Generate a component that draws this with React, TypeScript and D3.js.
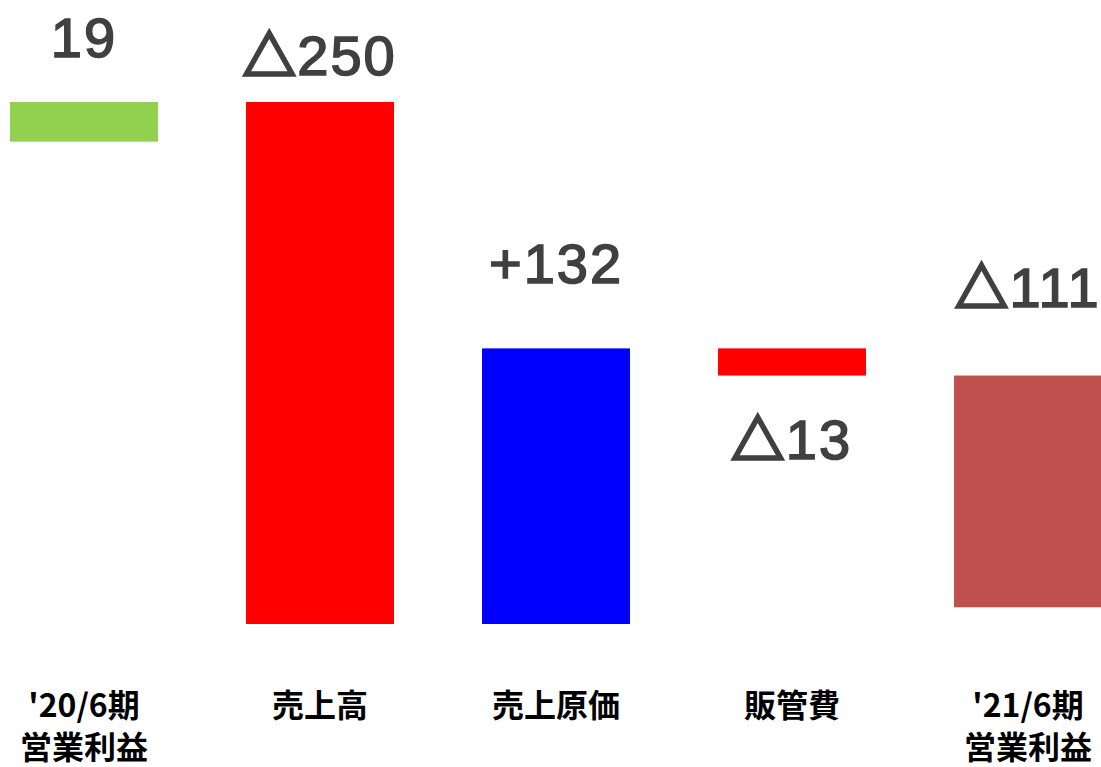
import React from "react";
import * as d3 from "d3";

const categories = ["'20/6期\n営業利益", "売上高", "売上原価", "販管費", "'21/6期\n営業利益"];
const changes = [19, -250, 132, -13, -111];
const valueLabels = ["19", "△250", "+132", "△13", "△111"];
const barColors = ["#92D050", "#FF0000", "#0000FF", "#FF0000", "#C0504D"];
// vertical label offsets (px) from the bar's top (negative) or bottom (positive)
const labelDy = [-45, -27, -65, 83, -69];

const W = 1101;
const H = 767;

export default function App() {
  // running totals (final bar hangs from the running total)
  let run = 0;
  const bars = changes.map((c, i) => {
    const start = i === 0 ? 0 : run;
    const end = start + c;
    run = end;
    return { lo: Math.min(start, end), hi: Math.max(start, end), i };
  });

  const x = d3
    .scaleBand<string>()
    .domain(categories)
    .range([-34, 1146])
    .paddingInner(0.373)
    .paddingOuter(0.1865);
  const y = d3.scaleLinear().domain([19, -231]).range([102, 624]);

  return (
    <svg
      width={W}
      height={H}
      style={{ position: "absolute", left: 0, top: 0, background: "#fff" }}
    >
      {bars.map((b) => {
        const cat = categories[b.i];
        const x0 = x(cat)!;
        const bw = x.bandwidth();
        const top = y(b.hi);
        const bottom = y(b.lo);
        const cx = x0 + bw / 2;
        const ly = labelDy[b.i] < 0 ? top + labelDy[b.i] : bottom + labelDy[b.i];
        const lbl = valueLabels[b.i];
        const hasTri = lbl.startsWith("△");
        return (
          <g key={b.i}>
            <rect x={x0} y={top} width={bw} height={bottom - top} fill={barColors[b.i]} />
            <text
              x={cx}
              y={ly}
              textAnchor="middle"
              fill="#404040"
              stroke="#404040"
              strokeWidth={1.6}
              fontSize={56}
              fontFamily="'Liberation Sans', Arial, sans-serif"
              letterSpacing={2}
            >
              {hasTri ? (
                <>
                  <tspan fontFamily="'Noto Sans CJK JP'" fontSize={52} strokeWidth={3.5}>△</tspan>
                  <tspan>{lbl.slice(1)}</tspan>
                </>
              ) : (
                lbl
              )}
            </text>
            <text
              x={cx}
              y={717}
              textAnchor="middle"
              fill="#000"
              fontSize={32}
              fontWeight={700}
              fontFamily="'Noto Sans CJK JP', sans-serif"
            >
              {cat.split("\n").map((line, k) => (
                <tspan key={k} x={cx} dy={k === 0 ? 0 : 42}>
                  {line}
                </tspan>
              ))}
            </text>
          </g>
        );
      })}
    </svg>
  );
}
